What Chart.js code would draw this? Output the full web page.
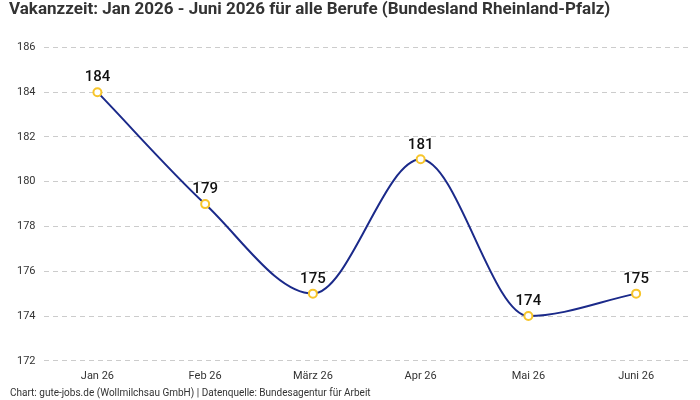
<!DOCTYPE html>
<html>
<head>
<meta charset="utf-8">
<script src="https://cdn.jsdelivr.net/npm/chart.js@4"></script>
<style>
  html, body { margin: 0; padding: 0; background: #fff; }
  #wrap { width: 700px; height: 400px; position: relative; }
</style>
</head>
<body>
<div id="wrap"><canvas id="vakanzChart"></canvas></div>
<script>
const months = ['Jan 26', 'Feb 26', 'März 26', 'Apr 26', 'Mai 26', 'Juni 26'];
const vakanzTage = [184, 179, 175, 181, 174, 175];
const yTicks = [172, 174, 176, 178, 180, 182, 184, 186];
const quelle = 'Chart: gute-jobs.de (Wollmilchsau GmbH) | Datenquelle: Bundesagentur für Arbeit';

const fontFam = "'Roboto', 'Liberation Sans', sans-serif";

// Werte über die Punkte schreiben + Quellenzeile unten
const valueLabels = {
    id: 'valueLabels',
    afterDatasetsDraw(chart) {
        const ctx = chart.ctx;
        const meta = chart.getDatasetMeta(0);
        ctx.save();
        ctx.font = '500 15px ' + fontFam;
        ctx.fillStyle = '#111';
        ctx.textAlign = 'center';
        ctx.textBaseline = 'bottom';
        meta.data.forEach((pt, i) => {
            ctx.fillText(String(vakanzTage[i]), pt.x, pt.y - 7);
        });
        ctx.font = '10px ' + fontFam;
        ctx.fillStyle = '#333';
        ctx.textAlign = 'left';
        ctx.textBaseline = 'middle';
        ctx.fillText(quelle, 10, 393);
        ctx.restore();
    }
};

const ctx = document.getElementById('vakanzChart').getContext('2d');
new Chart(ctx, {
    type: 'line',
    data: {
        labels: months,
        datasets: [{
            data: vakanzTage,
            borderColor: '#1b2a8a',
            borderWidth: 2,
            cubicInterpolationMode: 'monotone',
            pointRadius: 4,
            pointHoverRadius: 4,
            pointBorderWidth: 2,
            pointBorderColor: '#f7c52b',
            pointBackgroundColor: '#ffffff',
            fill: false,
        }],
    },
    options: {
        responsive: true,
        maintainAspectRatio: false,
        animation: false,
        layout: { padding: { left: 9, right: 10, top: 0, bottom: 8 } },
        plugins: {
            legend: { display: false },
            tooltip: { enabled: false },
            title: {
                display: true,
                text: 'Vakanzzeit: Jan 2026 - Juni 2026 für alle Berufe (Bundesland Rheinland-Pfalz)',
                align: 'start',
                color: '#333',
                font: { family: fontFam, size: 17, weight: 'bold' },
                padding: { top: 0, bottom: 27 },
            },
        },
        scales: {
            x: {
                offset: true,
                grid: { display: false, drawTicks: false },
                border: { display: false },
                ticks: { color: '#333', font: { family: fontFam, size: 11 }, padding: 9 },
            },
            y: {
                min: 172,
                max: 186,
                afterBuildTicks: (axis) => { axis.ticks = yTicks.map(v => ({ value: v })); },
                grid: { color: '#cccccc', drawTicks: false },
                border: { display: false, dash: [5, 4] },
                ticks: { color: '#333', font: { family: fontFam, size: 11 }, padding: 8 },
            },
        },
    },
    plugins: [valueLabels],
});
</script>
</body>
</html>
